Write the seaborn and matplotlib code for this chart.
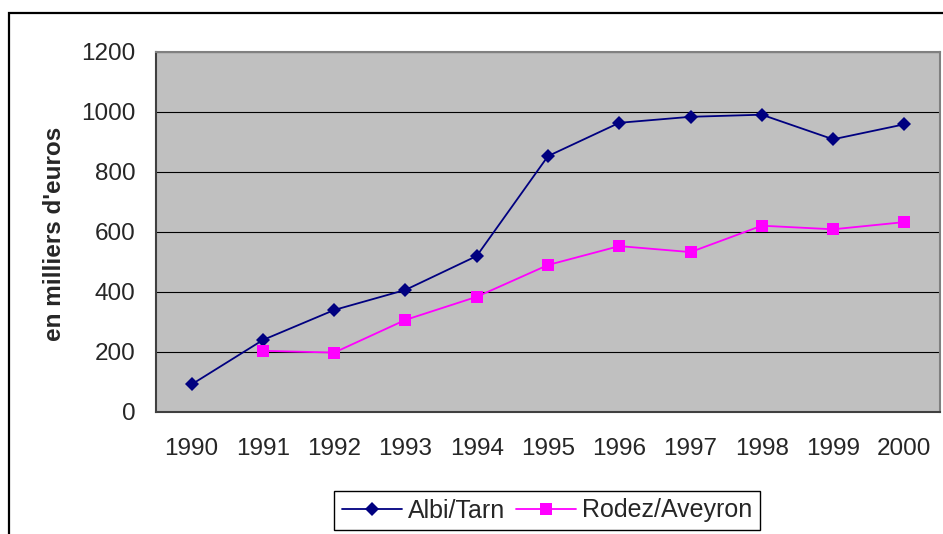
import pandas as pd
import numpy as np
import seaborn as sns
import matplotlib
matplotlib.use('Agg')
import matplotlib.pyplot as plt
from matplotlib.patches import Rectangle
from matplotlib.ticker import FixedLocator, NullFormatter

# Données (en milliers d'euros)
annees = [1990, 1991, 1992, 1993, 1994, 1995, 1996, 1997, 1998, 1999, 2000]
albi_tarn = [92, 240, 340, 407, 520, 853, 964, 984, 991, 909, 959]
rodez_aveyron = [np.nan, 204, 198, 307, 384, 490, 553, 533, 621, 609, 633]
series = ["Albi/Tarn", "Rodez/Aveyron"]
couleurs = {"Albi/Tarn": "#000080", "Rodez/Aveyron": "#FF00FF"}
marqueurs = {"Albi/Tarn": "D", "Rodez/Aveyron": "s"}

df = pd.DataFrame({
    "annee": annees * 2,
    "valeur": albi_tarn + rodez_aveyron,
    "ville": [series[0]] * len(annees) + [series[1]] * len(annees),
})

sns.set_style("white")
plt.rcParams['font.family'] = ['Liberation Sans', 'DejaVu Sans']

W, H = 943, 534
fig = plt.figure(figsize=(W / 100, H / 100), dpi=100)
ax = fig.add_axes([156 / W, 1 - 412 / H, 784 / W, 360 / H])
ax.set_facecolor("#C0C0C0")

sns.lineplot(data=df, x="annee", y="valeur", hue="ville", style="ville",
             palette=couleurs, markers=marqueurs, dashes=False, ax=ax,
             linewidth=1.3, markeredgewidth=0, legend=True)
# tailles des marqueurs
tailles = {"D": 7.5, "s": 8.6}
for line in ax.get_lines():
    if line.get_marker() in tailles:
        line.set_markersize(tailles[line.get_marker()])

ax.set_xlim(1989.5, 2000.5)
ax.set_ylim(0, 1200)
ax.set_yticks(range(0, 1201, 200))
ax.set_xticks(annees)
ax.set_xticklabels([str(a) for a in annees])
ax.xaxis.set_minor_locator(FixedLocator(np.arange(1989.5, 2001, 1)))
ax.xaxis.set_minor_formatter(NullFormatter())
ax.tick_params(axis="x", which="major", length=0, pad=19, labelsize=17.5)
ax.tick_params(axis="x", which="minor", length=7, width=1, color="#404040", direction="out")
ax.tick_params(axis="y", length=7, width=1, color="#404040", pad=8, labelsize=17.5, direction="out")
ax.grid(axis="y", color="black", linewidth=0.8)
ax.set_axisbelow(True)
ax.set_xlabel("")
ax.set_ylabel("")

for s in ["top", "right"]:
    ax.spines[s].set_color("#808080")
    ax.spines[s].set_linewidth(1.5)
for s in ["left", "bottom"]:
    ax.spines[s].set_color("#404040")
    ax.spines[s].set_linewidth(1.5)

fig.text(55 / W, 1 - 234 / H, "en milliers d'euros", rotation=90,
         ha="center", va="center", fontsize=17.5, fontweight="bold")

# légende en bas
handles, labels = ax.get_legend_handles_labels()
ax.get_legend().remove()
for h in handles:
    if h.get_marker() in tailles:
        h.set_markersize(tailles[h.get_marker()])
        h.set_markeredgewidth(0)
leg = fig.legend(handles, labels, loc="upper left",
                 bbox_to_anchor=(334 / W, 1 - 491 / H), ncol=2,
                 fontsize=18, frameon=True, fancybox=False, framealpha=1,
                 edgecolor="black", handlelength=2.4, handletextpad=0.25,
                 columnspacing=0.45, borderpad=0.3, borderaxespad=0)
leg.get_frame().set_linewidth(1)

# cadre extérieur
fig.patches.append(Rectangle((9 / W, -0.2), 1.2, 1 - 13 / H + 0.2,
                             transform=fig.transFigure, fill=False,
                             edgecolor="black", linewidth=1.6))

plt.savefig("out.png", dpi=100)
